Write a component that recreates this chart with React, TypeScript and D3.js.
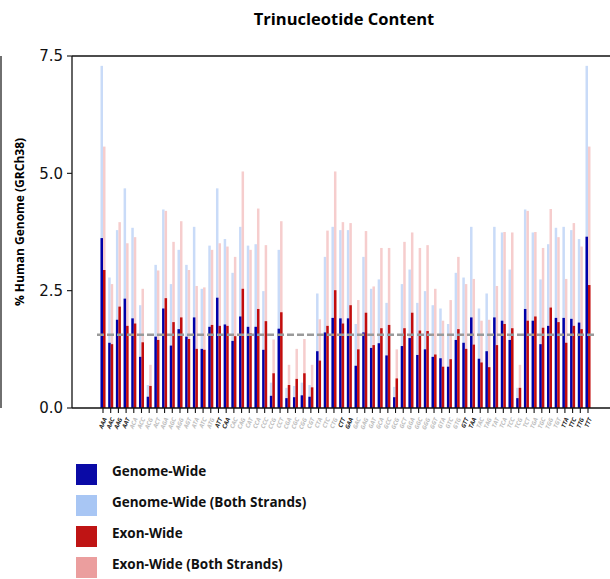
import { useEffect, useRef } from 'react';
import * as d3 from 'd3';

const trinucleotides = [
  'AAA', 'AAC', 'AAG', 'AAT', 'ACA', 'ACC', 'ACG', 'ACT', 'AGA', 'AGC', 'AGG', 'AGT', 'ATA', 'ATC', 'ATG', 'ATT',
  'CAA', 'CAC', 'CAG', 'CAT', 'CCA', 'CCC', 'CCG', 'CCT', 'CGA', 'CGC', 'CGG', 'CGT', 'CTA', 'CTC', 'CTG', 'CTT',
  'GAA', 'GAC', 'GAG', 'GAT', 'GCA', 'GCC', 'GCG', 'GCT', 'GGA', 'GGC', 'GGG', 'GGT', 'GTA', 'GTC', 'GTG', 'GTT',
  'TAA', 'TAC', 'TAG', 'TAT', 'TCA', 'TCC', 'TCG', 'TCT', 'TGA', 'TGC', 'TGG', 'TGT', 'TTA', 'TTC', 'TTG', 'TTT',
];

// labels drawn dark in the original
const highlighted = ['AAA', 'AAC', 'AAG', 'AAT', 'ATT', 'CAA', 'CTT', 'GAA', 'GTT', 'TAA', 'TTA', 'TTC', 'TTG', 'TTT'];

const genomeWide = [
  3.62, 1.39, 1.88, 2.33, 1.91, 1.09, 0.24, 1.52, 2.12, 1.33, 1.68, 1.52, 1.93, 1.26, 1.73, 2.35,
  1.78, 1.43, 1.95, 1.73, 1.73, 1.24, 0.26, 1.69, 0.21, 0.23, 0.27, 0.24, 1.21, 1.61, 1.92, 1.91,
  1.91, 0.90, 1.61, 1.28, 1.38, 1.12, 0.23, 1.32, 1.49, 1.13, 1.25, 1.09, 1.06, 0.88, 1.45, 1.39,
  1.93, 1.05, 1.21, 1.93, 1.86, 1.45, 0.21, 2.11, 1.86, 1.36, 1.75, 1.92, 1.92, 1.90, 1.82, 3.65,
];

const genomeWideBoth = [
  7.29, 2.78, 3.79, 4.68, 3.84, 2.19, 0.49, 3.05, 4.23, 2.64, 3.37, 3.05, 3.86, 2.54, 3.46, 4.68,
  3.60, 2.88, 3.86, 3.46, 3.49, 2.49, 0.54, 3.37, 0.43, 0.47, 0.54, 0.49, 2.44, 3.22, 3.86, 3.79,
  3.79, 1.79, 3.22, 2.54, 2.74, 2.24, 0.45, 2.64, 2.95, 2.24, 2.49, 2.19, 2.12, 1.79, 2.88, 2.78,
  3.86, 2.12, 2.44, 3.86, 3.74, 2.95, 0.43, 4.23, 3.74, 2.74, 3.49, 3.84, 3.86, 3.79, 3.60, 7.29,
];

const exonWide = [
  2.94, 1.36, 2.16, 1.75, 1.80, 1.40, 0.47, 1.45, 2.34, 1.83, 1.93, 1.47, 1.26, 1.24, 1.77, 1.75,
  1.75, 1.53, 2.54, 1.59, 2.11, 1.85, 0.74, 2.04, 0.49, 0.62, 0.74, 0.44, 1.01, 1.75, 2.51, 1.80,
  2.19, 1.25, 2.03, 1.34, 1.70, 1.77, 0.63, 1.70, 2.03, 1.65, 1.64, 1.14, 0.88, 1.04, 1.68, 1.26,
  1.35, 0.97, 0.87, 1.34, 1.79, 1.70, 0.43, 1.86, 1.95, 1.71, 2.14, 1.83, 1.39, 1.75, 1.68, 2.62,
];

const exonWideBoth = [
  5.57, 2.64, 3.96, 3.51, 3.64, 2.54, 0.92, 2.93, 4.20, 3.54, 3.98, 2.94, 2.60, 2.57, 3.37, 3.51,
  3.44, 3.22, 5.04, 3.37, 4.25, 3.47, 1.46, 3.98, 0.92, 1.26, 1.47, 0.92, 1.89, 3.78, 5.04, 3.96,
  3.94, 2.30, 3.77, 2.59, 3.41, 3.41, 1.25, 3.54, 3.74, 3.41, 3.47, 2.54, 1.86, 2.30, 3.22, 2.64,
  2.75, 1.86, 1.88, 2.60, 3.75, 3.74, 0.92, 4.20, 3.75, 3.41, 4.24, 3.64, 2.75, 3.94, 3.44, 5.57,
];

const yTicks = [0, 2.5, 5.0, 7.5];
const uniformLevel = 100 / 64;

const legendItems = [
  { label: 'Genome-Wide', color: '#0a0aa6' },
  { label: 'Genome-Wide (Both Strands)', color: '#a8c6f4' },
  { label: 'Exon-Wide', color: '#bf1414' },
  { label: 'Exon-Wide (Both Strands)', color: '#eb9e9e' },
];

const TrinucleotideChart = () => {
  const svgRef = useRef(null);

  useEffect(() => {
    if (!svgRef.current) return;
    const width = 610, height = 579;
    const svg = d3.select(svgRef.current).attr('width', width).attr('height', height);
    svg.selectAll('*').remove();

    const left = 72, top = 56, bottom = 408;
    const x = d3.scalePoint().domain(trinucleotides).range([103, 588]);
    const y = d3.scaleLinear().domain([0, 7.5]).range([bottom, top]);
    const bw = 2.5;
    const sans = "'Open Sans', 'DejaVu Sans', sans-serif";

    // title
    svg.append('text')
      .attr('x', 344).attr('y', 25)
      .attr('text-anchor', 'middle')
      .style('font-family', sans).style('font-weight', 700).style('font-size', '16.5px')
      .text('Trinucleotide Content');

    // stray frame line at the left edge
    svg.append('line').attr('x1', 1).attr('x2', 1).attr('y1', top).attr('y2', bottom)
      .attr('stroke', '#222').attr('stroke-width', 1.3);

    const bars = svg.append('g');
    const drawSeries = (vals, offset, color) => {
      bars.append('g').selectAll('rect')
        .data(vals)
        .join('rect')
        .attr('x', (d, i) => x(trinucleotides[i]) + offset)
        .attr('width', bw)
        .attr('y', d => y(d))
        .attr('height', d => y(0) - y(d))
        .attr('fill', color);
    };
    drawSeries(genomeWideBoth, -bw, '#c9dbf8');
    drawSeries(exonWideBoth, 0, '#f6cdcd');
    drawSeries(genomeWide, -bw, '#0000a8');
    drawSeries(exonWide, 0, '#c20d0d');

    // uniform expectation line
    svg.append('line')
      .attr('x1', 97).attr('x2', 594)
      .attr('y1', y(uniformLevel)).attr('y2', y(uniformLevel))
      .attr('stroke', '#9a9a9a').attr('stroke-width', 2.5)
      .attr('stroke-dasharray', '7,3');

    // spines
    const axisColor = '#111';
    svg.append('line').attr('x1', left).attr('x2', width).attr('y1', top).attr('y2', top)
      .attr('stroke', axisColor).attr('stroke-width', 1.3);
    svg.append('line').attr('x1', left).attr('x2', width).attr('y1', bottom).attr('y2', bottom)
      .attr('stroke', axisColor).attr('stroke-width', 1.3);
    svg.append('line').attr('x1', left).attr('x2', left).attr('y1', top).attr('y2', bottom)
      .attr('stroke', axisColor).attr('stroke-width', 1.3);

    // y axis
    const yAxis = svg.append('g');
    yTicks.forEach(t => {
      yAxis.append('line').attr('x1', left - 5).attr('x2', left).attr('y1', y(t)).attr('y2', y(t))
        .attr('stroke', axisColor).attr('stroke-width', 1.1);
      yAxis.append('text')
        .attr('x', left - 9).attr('y', y(t)).attr('dy', '0.36em')
        .attr('text-anchor', 'end')
        .style('font-family', "'DejaVu Sans', sans-serif").style('font-size', '15px')
        .attr('fill', '#111')
        .text(t.toFixed(1));
    });
    svg.append('text')
      .attr('transform', `translate(24, ${(top + bottom) / 2 - 10}) rotate(-90)`)
      .attr('text-anchor', 'middle')
      .style('font-family', sans).style('font-weight', 700).style('font-size', '12px')
      .text('% Human Genome (GRCh38)');

    // x ticks and labels
    const xAxis = svg.append('g');
    trinucleotides.forEach(t => {
      const cx = x(t);
      xAxis.append('line').attr('x1', cx).attr('x2', cx).attr('y1', bottom).attr('y2', bottom + 5)
        .attr('stroke', axisColor).attr('stroke-width', 1.1);
      const dark = highlighted.includes(t);
      xAxis.append('text')
        .attr('transform', `translate(${cx + 2}, ${bottom + 10}) rotate(-67)`)
        .attr('text-anchor', 'end')
        .attr('dy', '0.35em')
        .style('font-family', sans).style('font-weight', 700).style('font-style', 'italic')
        .style('font-size', '6px')
        .attr('fill', dark ? '#222' : '#bdbdbd')
        .text(t);
    });

    // legend
    const legend = svg.append('g');
    legendItems.forEach((item, i) => {
      const ly = 464 + i * 31;
      legend.append('rect').attr('x', 76).attr('y', ly).attr('width', 21).attr('height', 21)
        .attr('fill', item.color);
      legend.append('text')
        .attr('x', 112).attr('y', ly + 11).attr('dy', '0.1em')
        .style('font-family', sans).style('font-weight', 700).style('font-size', '13.5px')
        .attr('fill', '#111')
        .text(item.label);
    });
  }, []);

  return <svg ref={svgRef} style={{ position: 'absolute', top: 0, left: 0 }} />;
};

export default function App() {
  return (
    <div style={{ position: 'fixed', top: 0, left: 0, width: 610, height: 579, background: '#fff' }}>
      <TrinucleotideChart />
    </div>
  );
}
